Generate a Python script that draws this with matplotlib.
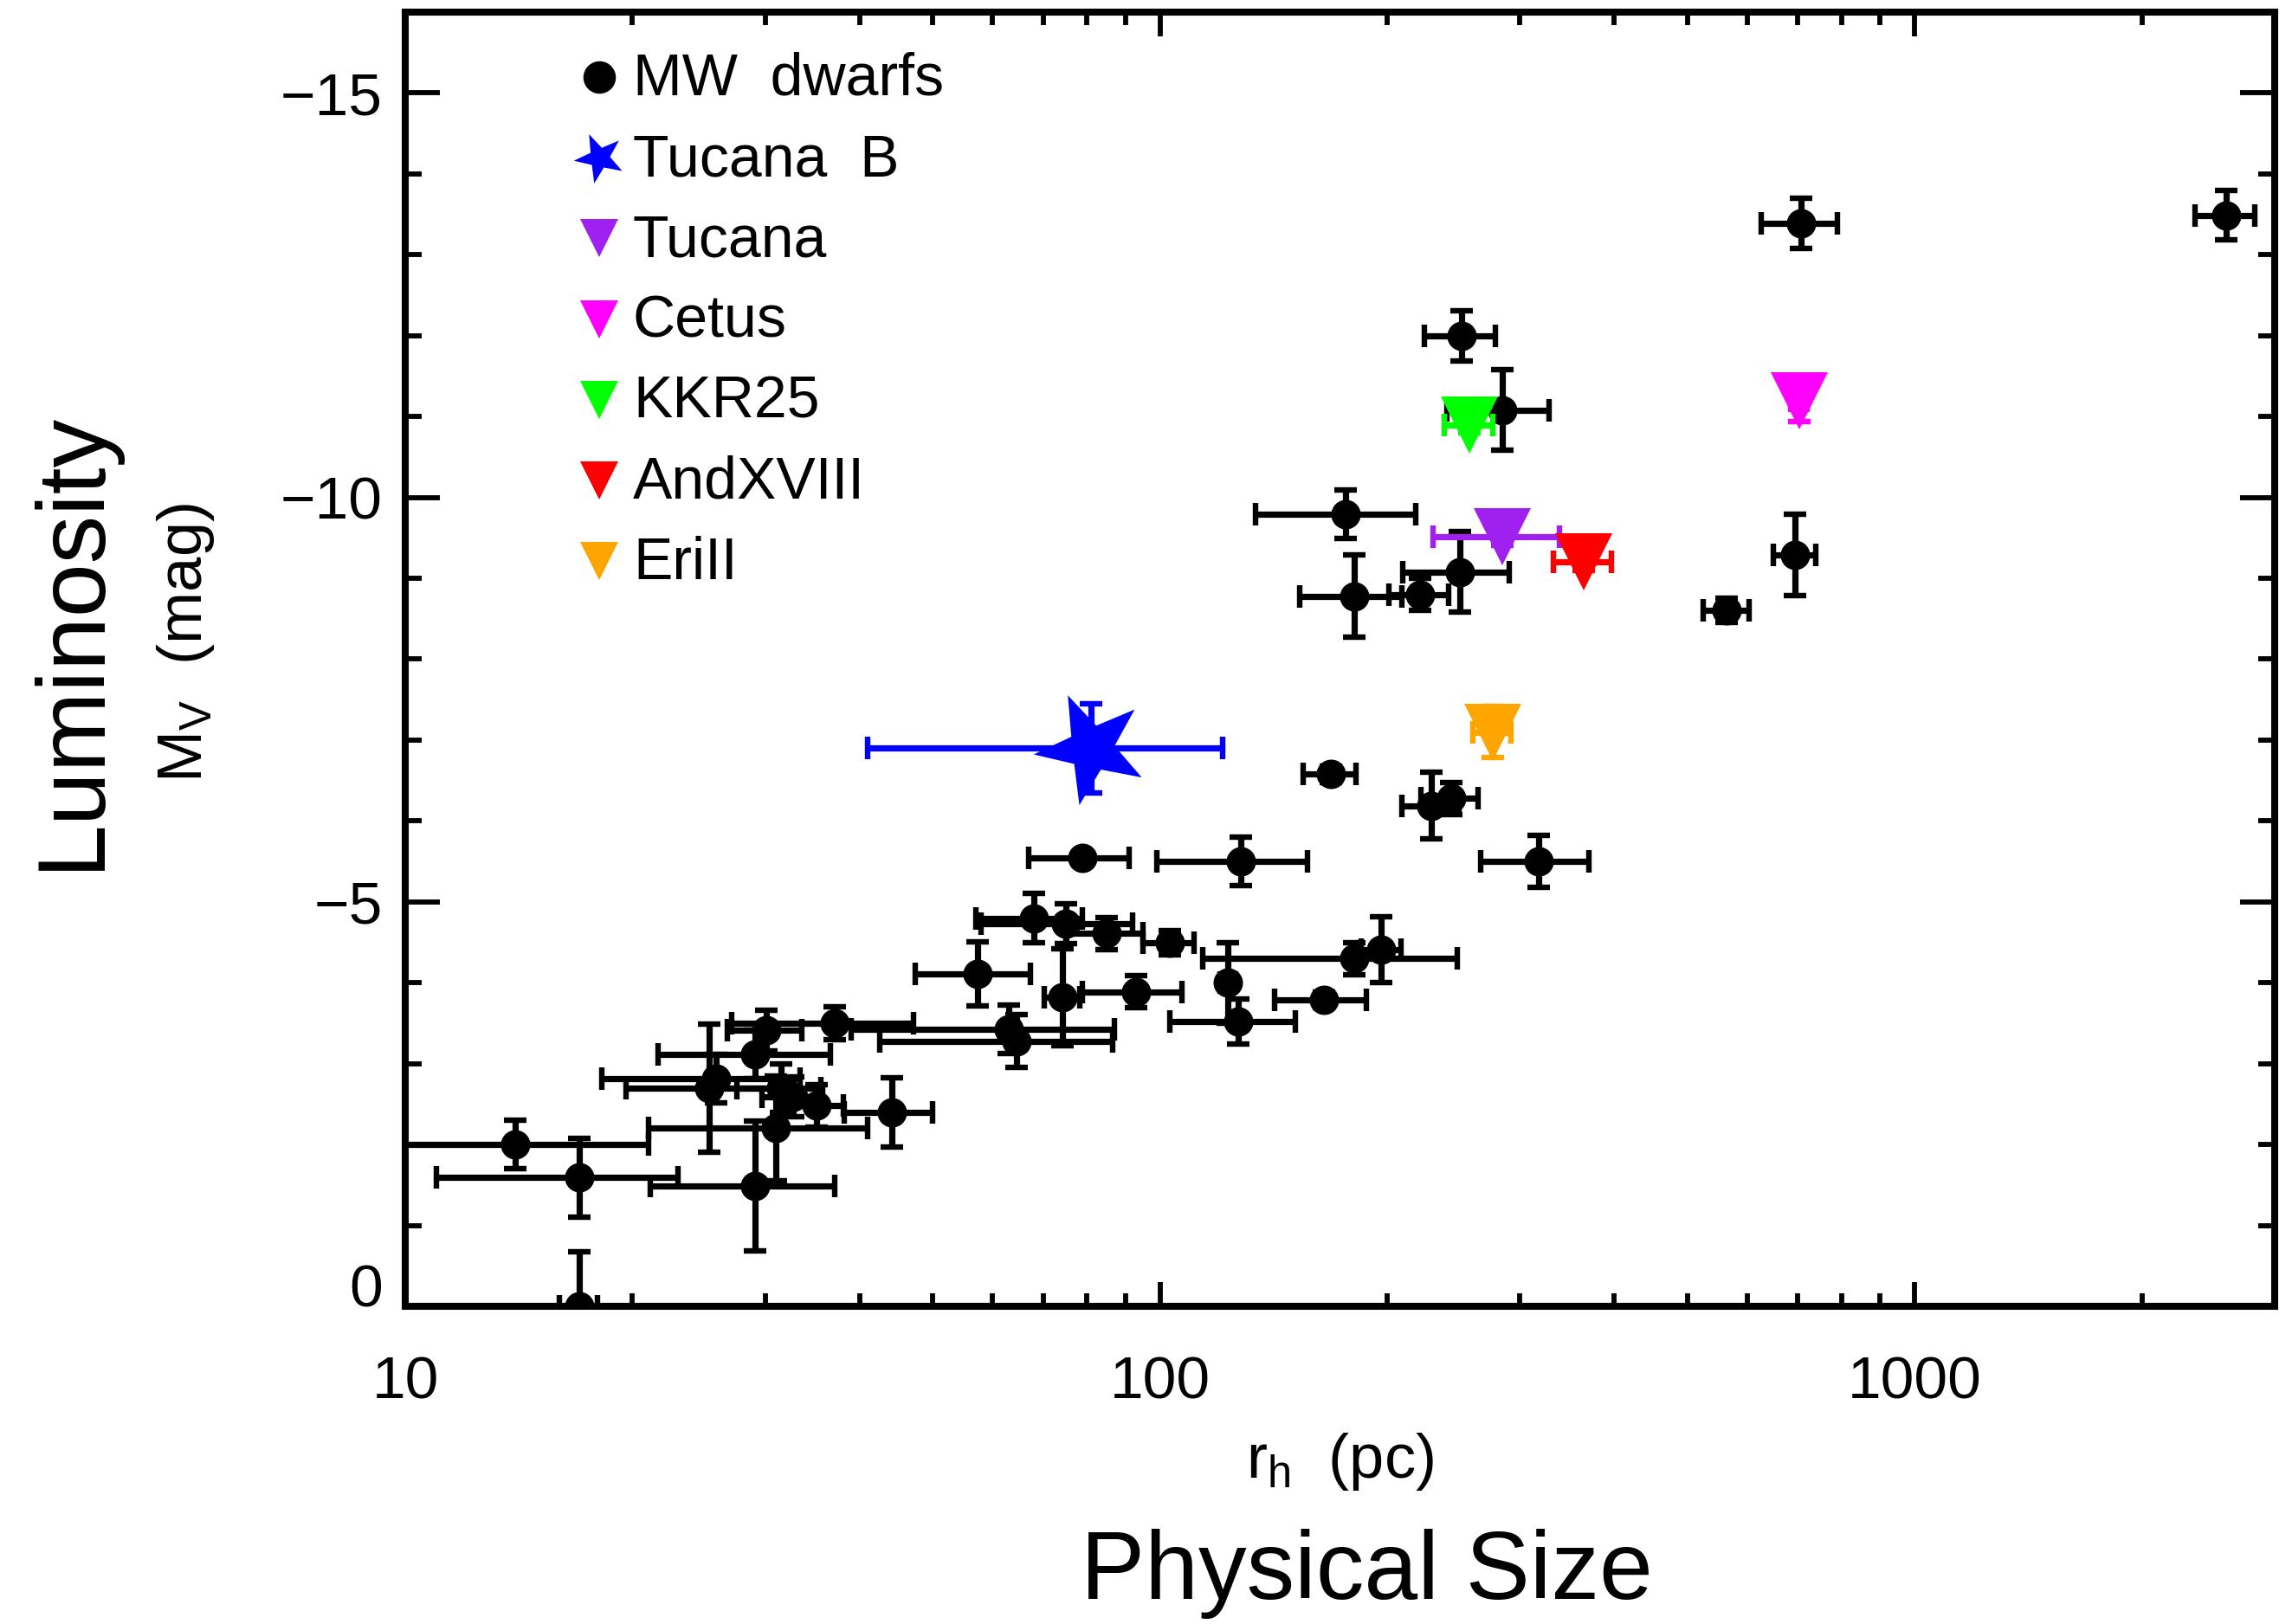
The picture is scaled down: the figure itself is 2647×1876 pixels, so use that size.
import matplotlib
matplotlib.use("Agg")
import matplotlib.pyplot as plt
from matplotlib import ticker
from matplotlib.path import Path
from matplotlib.transforms import Affine2D

plt.rcParams['font.family'] = ['Liberation Sans', 'DejaVu Sans']
plt.rcParams['mathtext.fontset'] = 'custom'
plt.rcParams['mathtext.rm'] = 'Liberation Sans'
plt.rcParams['mathtext.it'] = 'Liberation Sans:italic'
plt.rcParams['axes.unicode_minus'] = True

# Milky Way dwarf satellites: half-light radius (pc) and absolute V magnitude
mw_rh = [2585, 708, 251, 284, 176, 250, 181, 221, 695, 564,
         168.5, 229, 243, 79, 128, 318, 68, 75, 85, 103,
         57.4, 74.3, 93, 123, 181, 196.6, 164.8, 127, 63, 64.5,
         37.1, 30.1, 29.1, 25.3, 25.8, 31.5, 32.7, 35.1, 44.1, 31.0,
         14.0, 17.0, 29.1, 17.0]
mw_rh_err = [235, 82, 27, 44, 42, 40, 28, 20, 45, 40,
             13.5, 20, 21, 12, 29, 52, 11, 17, 10, 8,
             10, 4, 14, 3, 67, 12, 23, 24, 24, 22,
             10, 3.4, 7.5, 5.7, 7.6, 4, 3, 3, 5.9, 10,
             7, 6, 8, 1]
mw_mv = [-13.49, -13.39, -12.00, -11.08, -9.79, -9.08, -8.78, -8.80, -9.29, -8.60,
         -6.58, -6.19, -6.28, -5.54, -5.50, -5.50, -4.80, -4.73, -4.61, -4.50,
         -4.11, -3.82, -3.89, -4.00, -4.30, -4.41, -3.79, -3.52, -3.42, -3.28,
         -3.50, -3.41, -3.11, -2.70, -2.81, -2.70, -2.59, -2.48, -2.40, -2.20,
         -2.00, -1.59, -1.49, 0.00]
mw_mv_err = [0.30, 0.31, 0.31, 0.50, 0.30, 0.50, 0.51, 0.20, 0.50, 0.15,
             0.10, 0.41, 0.20, 0.08, 0.30, 0.32, 0.30, 0.25, 0.20, 0.15,
             0.40, 0.60, 0.20, 0.50, 0.20, 0.41, 0.10, 0.28, 0.30, 0.33,
             0.20, 0.25, 0.30, 0.79, 0.30, 0.30, 0.25, 0.26, 0.43, 0.65,
             0.30, 0.49, 0.80, 0.67]

# Isolated dwarfs
iso_names = ["Tucana B", "Tucana", "Cetus", "KKR25", "AndXVIII", "EriII"]
iso_rh = [81, 284, 703, 257, 364, 276]
iso_rh_err = [40, 54, 17, 19, 32, 16]
iso_mv = [-6.90, -9.51, -11.19, -10.90, -9.20, -7.10]
iso_mv_err = [0.55, 0.10, 0.25, 0.10, 0.10, 0.32]
iso_colors = ["#0000FF", "#A020F0", "#FF00FF", "#00FF00", "#FF0000", "#FFA500"]

legend_labels = ["MW  dwarfs", "Tucana  B", "Tucana", "Cetus", "KKR25", "AndXVIII", "EriII"]

W, H = 2647, 1876
fig = plt.figure(figsize=(W / 100, H / 100), dpi=100)
ax_l, ax_r, ax_t, ax_b = 468, 2627, 14, 1509
ax = fig.add_axes([ax_l / W, 1 - ax_b / H, (ax_r - ax_l) / W, (ax_b - ax_t) / H])

# rotated five-pointed star for Tucana B
star = Affine2D().rotate_deg(24).transform_path(Path.unit_regular_star(5, 0.40))

err_kw = dict(elinewidth=5.2, capsize=9.5, capthick=4.6)

ax.errorbar(mw_rh, mw_mv, xerr=mw_rh_err, yerr=mw_mv_err, fmt='o', color='black',
            ms=23.5, zorder=3, **err_kw)

for name, r, re, m, me, c in zip(iso_names, iso_rh, iso_rh_err, iso_mv, iso_mv_err, iso_colors):
    if name == "Tucana B":
        mk, ms = star, 96
    else:
        mk, ms = 'v', 47
    ax.errorbar([r], [m], xerr=[re], yerr=[me], fmt='none', ecolor=c, zorder=4, **err_kw)
    ax.plot([r], [m], linestyle='none', marker=mk, ms=ms, color=c, mew=0, zorder=4.5)

ax.set_xscale('log')
ax.set_xlim(10, 3000)
ax.set_ylim(0, -16)

ax.xaxis.set_major_locator(ticker.FixedLocator([10, 100, 1000]))
ax.xaxis.set_major_formatter(ticker.FuncFormatter(lambda v, p: f"{v:g}"))
ax.xaxis.set_minor_locator(ticker.LogLocator(base=10, subs=range(2, 10), numticks=20))
ax.xaxis.set_minor_formatter(ticker.NullFormatter())
ax.yaxis.set_major_locator(ticker.FixedLocator([-15, -10, -5, 0]))
ax.yaxis.set_minor_locator(ticker.MultipleLocator(1))

for s in ax.spines.values():
    s.set_linewidth(5.8)

ax.tick_params(axis='y', which='major', length=29, width=4.2, direction='in', pad=19,
               labelsize=50, left=True, right=True)
ax.tick_params(axis='y', which='minor', length=13.5, width=4.2, direction='in',
               left=True, right=True)
ax.tick_params(axis='x', which='major', length=20.5, width=4.2, direction='in', pad=41,
               labelsize=50, top=True, bottom=True)
ax.tick_params(axis='x', which='minor', length=10.5, width=4.2, direction='in',
               top=True, bottom=True)

# legend drawn inside the upper-left corner
def ax_frac(px, py):
    return (px - ax_l) / (ax_r - ax_l), 1 - (py - ax_t) / (ax_b - ax_t)

leg_markers = [('o', 27, 'black')] + [
    (star if n == "Tucana B" else 'v', 43 if n == "Tucana B" else 32, c)
    for n, c in zip(iso_names, iso_colors)]
for i, (lab, (mk, ms, c)) in enumerate(zip(legend_labels, leg_markers)):
    mx, my = ax_frac(692, 89 + 93.2 * i)
    ax.plot([mx], [my], marker=mk, ms=ms, color=c, mew=0, transform=ax.transAxes,
            clip_on=False, zorder=5)
    tx, ty = ax_frac(731, 110 + 93.2 * i)
    ax.text(tx, ty, lab, transform=ax.transAxes, fontsize=49, va='baseline', ha='left')

fig.text(1547 / W, 1 - 1688 / H, r"r$_{\mathrm{h}}$  (pc)", fontsize=52,
         ha='center', va='center')
fig.text(214 / W, 1 - 743 / H, r"M$_{\mathrm{V}}$  (mag)", fontsize=52,
         ha='center', va='center', rotation=90)
fig.text(84 / W, 1 - 739 / H, "Luminosity", fontsize=80, ha='center', va='center',
         rotation=90)
fig.text(1578 / W, 1 - 1818 / H, "Physical Size", fontsize=80, ha='center', va='center')

fig.canvas.draw()
for tick in ax.yaxis.get_major_ticks():
    if tick.get_loc() == 0:
        tick.label1.set_verticalalignment('baseline')

fig.savefig("out.png", dpi=100, facecolor='white')
